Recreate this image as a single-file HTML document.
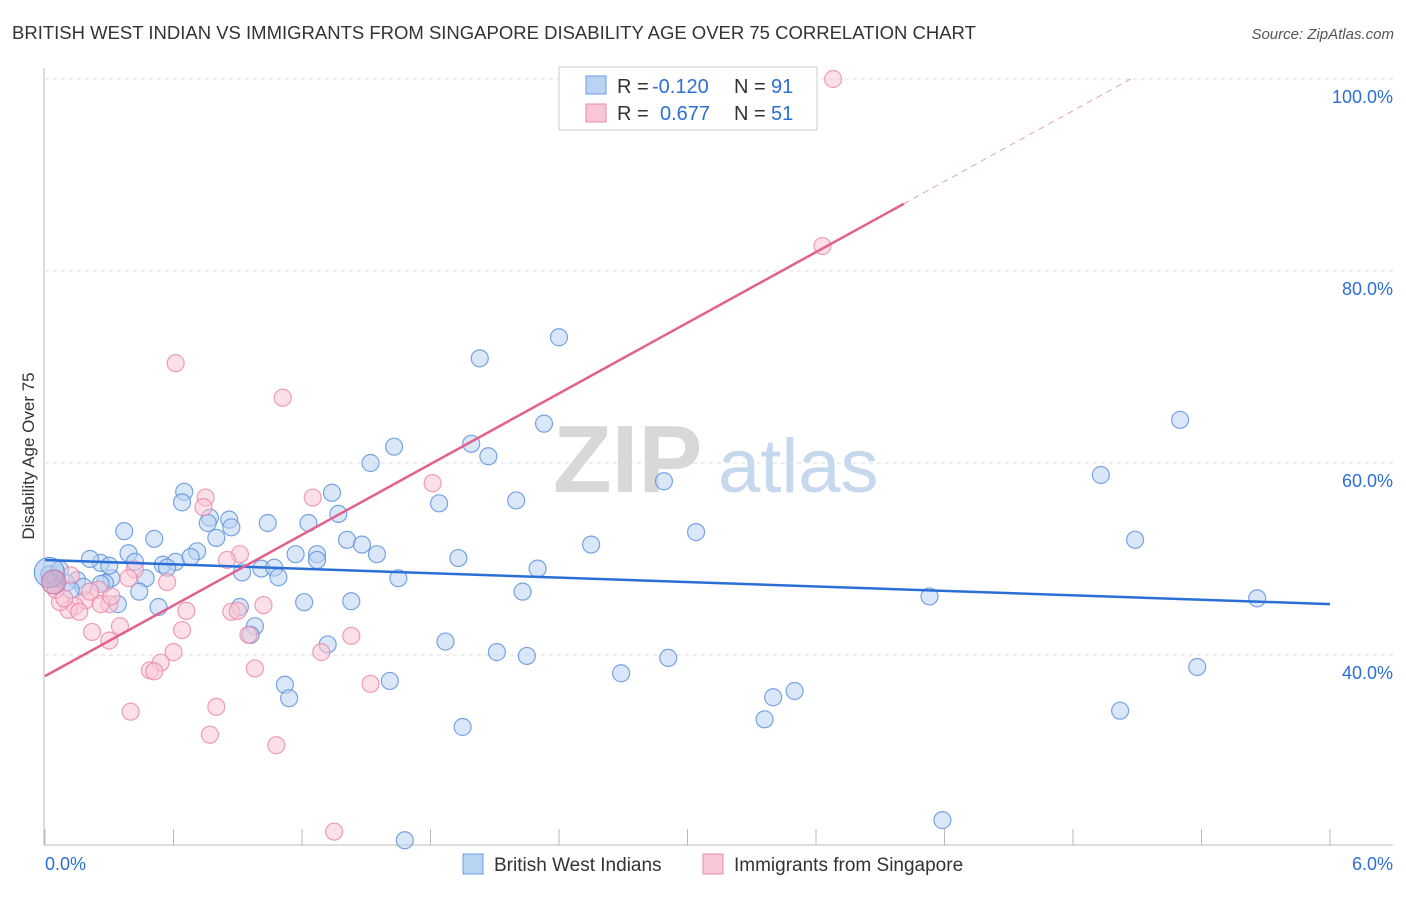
<!DOCTYPE html>
<html><head><meta charset="utf-8"><style>
body{margin:0;background:#fff;font-family:"Liberation Sans",sans-serif;}
svg text{font-family:"Liberation Sans",sans-serif;}
</style></head><body>
<svg id="chart" width="1406" height="892" xmlns="http://www.w3.org/2000/svg">
<text x="12" y="39" font-size="18.5" fill="#333">BRITISH WEST INDIAN VS IMMIGRANTS FROM SINGAPORE DISABILITY AGE OVER 75 CORRELATION CHART</text>
<text x="1394" y="39" font-size="15" fill="#555" font-style="italic" text-anchor="end">Source: ZipAtlas.com</text>
<g>
<text x="553" y="492" font-size="96" fill="#d8d8d8" font-family="Liberation Serif" font-weight="bold">ZIP</text>
<text x="718" y="492" font-size="76" fill="#c5d8ee">atlas</text>
</g>
<g id="grid"></g>
<g id="axes"></g>
<g id="pts"></g>
<g id="trend"></g>
<text transform="translate(34,456) rotate(-90)" font-size="17" fill="#333" text-anchor="middle">Disability Age Over 75</text>
<g>
<rect x="559" y="67" width="258" height="63" fill="#fff" stroke="#ccc"/>
<rect x="586" y="76" width="20" height="18" fill="#b9d3f3" stroke="#6b9be0"/>
<rect x="586" y="104" width="20" height="18" fill="#f9c7d6" stroke="#ec8aa8"/>
<text x="617" y="93" font-size="20" fill="#333">R =</text>
<text x="652" y="93" font-size="20" fill="#2c6fd6">-0.120</text>
<text x="734" y="93" font-size="20" fill="#333">N =</text>
<text x="771" y="93" font-size="20" fill="#2c6fd6">91</text>
<text x="617" y="120" font-size="20" fill="#333">R =</text>
<text x="660" y="120" font-size="20" fill="#2c6fd6">0.677</text>
<text x="734" y="120" font-size="20" fill="#333">N =</text>
<text x="771" y="120" font-size="20" fill="#2c6fd6">51</text>
</g>
<g>
<rect x="463" y="854" width="20" height="20" fill="#b9d3f3" stroke="#6b9be0"/>
<text x="494" y="871" font-size="19" fill="#333">British West Indians</text>
<rect x="703" y="854" width="20" height="20" fill="#f9c7d6" stroke="#ec8aa8"/>
<text x="734" y="871" font-size="19" fill="#333">Immigrants from Singapore</text>
</g>
</svg>
<script>
const blueX=[2.03,2.40,2.33,1.63,1.52,1.99,2.07,2.89,4.93,5.30,5.09,.65,.64,.77,.86,.76,.87,1.04,1.23,1.34,1.37,.37,.51,.80,1.84,2.20,2.55,3.04,.39,.71,.42,.26,.21,.55,.61,.68,.57,1.17,1.27,1.27,1.41,1.48,1.55,1.93,2.30,.92,1.01,1.07,1.09,1.65,.47,.31,.28,.15,.10,.05,.02,.18,.44,.34,.53,.91,1.21,1.43,2.23,4.13,5.66,.98,.96,1.32,1.87,2.11,2.25,2.91,2.69,5.38,1.12,1.14,1.61,3.40,3.50,3.36,5.02,1.95,4.19,1.68,.30,.07,.12,.26];
const blueY=[70.9,73.1,64.1,61.7,60.0,62.0,60.7,58.1,58.75,64.5,52.0,57.0,55.9,54.3,54.1,53.75,53.3,53.75,53.75,56.9,54.7,52.9,52.1,52.2,55.8,56.1,51.5,52.8,50.6,50.8,49.7,49.6,50.0,49.4,49.7,50.2,49.1,50.5,50.5,49.9,52.0,51.5,50.5,50.1,49.0,48.6,49.0,49.1,48.1,48.0,48.0,48.0,47.5,47.8,47.5,48.0,48.4,47.1,46.6,45.3,45.0,45.0,45.5,45.6,46.6,46.1,45.9,43.0,42.1,41.1,41.4,40.3,39.9,39.7,38.1,38.75,36.9,35.5,37.3,35.6,36.25,33.3,34.2,32.5,22.8,20.7,49.3,48.9,46.8,47.4];
const pinkX=[3.68,3.63,.61,1.11,1.81,1.25,.75,.74,.91,.85,.42,.39,.57,.25,.19,.30,.26,.14,.11,.07,.05,.16,.35,.22,.30,.66,.87,.90,1.02,.95,.64,1.43,1.29,.60,.54,.49,.51,.98,1.52,.80,.40,.77,1.08,1.35,.09,.12,.21,.31];
const pinkY=[100,82.6,70.4,66.8,57.9,56.4,56.4,55.4,50.5,49.9,48.9,48.0,47.6,46.8,45.7,45.3,45.3,45.1,44.7,45.5,46.8,44.5,43.0,42.4,41.5,44.6,44.5,44.6,45.2,42.1,42.6,42.0,40.3,40.3,39.2,38.4,38.3,38.6,37.0,34.6,34.1,31.7,30.6,21.6,45.9,48.3,46.6,46.1];
const bigBlue=[0.02,48.6], bigPink=[0.04,47.6];
const blueTrend=[49.9,45.3];
const pinkTrend=[37.8,12.27];
const yTicks=[40,60,80,100];
const xTickLabels=["0.0%","6.0%"];
const NS="http://www.w3.org/2000/svg";
const sx=v=>45+v/6*1285, sy=v=>79+(100-v)*9.6;
function mk(tag,attrs,parent){const e=document.createElementNS(NS,tag);for(const k in attrs)e.setAttribute(k,attrs[k]);parent.appendChild(e);return e;}
const grid=document.getElementById('grid'),axes=document.getElementById('axes'),pts=document.getElementById('pts'),tr=document.getElementById('trend');
yTicks.forEach(t=>{
 const l=mk('line',{x1:45,x2:1393,y1:sy(t),y2:sy(t),stroke:'#ddd','stroke-dasharray':'4,4'},grid);
 
 
 const tx=mk('text',{x:1393,y:sy(t)+24,'font-size':18,fill:'#2c6fd6','text-anchor':'end'},grid);
 tx.textContent=t.toFixed(1)+'%';
 
 
});
const ax=mk('line',{x1:44,x2:44,y1:68,y2:845,stroke:'#bbb'},axes);


const bx=mk('line',{x1:44,x2:1393,y1:845,y2:845,stroke:'#bbb'},axes);


for(let i=0;i<=10;i++){const t=mk('line',{x1:sx(i*0.6),x2:sx(i*0.6),y1:829,y2:845,stroke:'#bbb'},axes);
 
 }
[[0,'start',45],[6,'end',1393]].forEach((a,i)=>{const t=mk('text',{x:a[2],y:870,'font-size':18,fill:'#2c6fd6','text-anchor':a[1]},axes);t.textContent=xTickLabels[i];
 
 });
function dots(X,Y,fill,stroke,name){X.forEach((x,i)=>{const c=mk('circle',{cx:sx(x),cy:sy(Y[i]),r:8.5,fill:fill,'fill-opacity':0.55,stroke:stroke,'stroke-opacity':0.8,'stroke-width':1.2},pts);
 
 });}
dots(blueX,blueY,'#b9d3f3','#5a8fdc','blue-point');
dots(pinkX,pinkY,'#f9c7d6','#ea87a6','pink-point');
let b=mk('circle',{cx:sx(bigBlue[0]),cy:sy(bigBlue[1]),r:15,fill:'#a9c4ee','fill-opacity':0.6,stroke:'#5a8fdc'},pts);


b=mk('circle',{cx:sx(bigPink[0]),cy:sy(bigPink[1]),r:12,fill:'#d9a2c0','fill-opacity':0.6,stroke:'#c07aa6'},pts);


let l=mk('line',{x1:sx(0),y1:sy(blueTrend[0]),x2:sx(6),y2:sy(blueTrend[1]),stroke:'#2a6fd6','stroke-width':2.5},tr);


const pe=4.01, pt=(100-pinkTrend[0])/pinkTrend[1];
l=mk('line',{x1:sx(0),y1:sy(pinkTrend[0]),x2:sx(pe),y2:sy(pinkTrend[0]+pinkTrend[1]*pe),stroke:'#e4608c','stroke-width':2.5},tr);


l=mk('line',{x1:sx(pe),y1:sy(pinkTrend[0]+pinkTrend[1]*pe),x2:sx(pt),y2:sy(100),stroke:'#e4a0b8','stroke-width':1,'stroke-dasharray':'6,5'},tr);


</script>
</body></html>
